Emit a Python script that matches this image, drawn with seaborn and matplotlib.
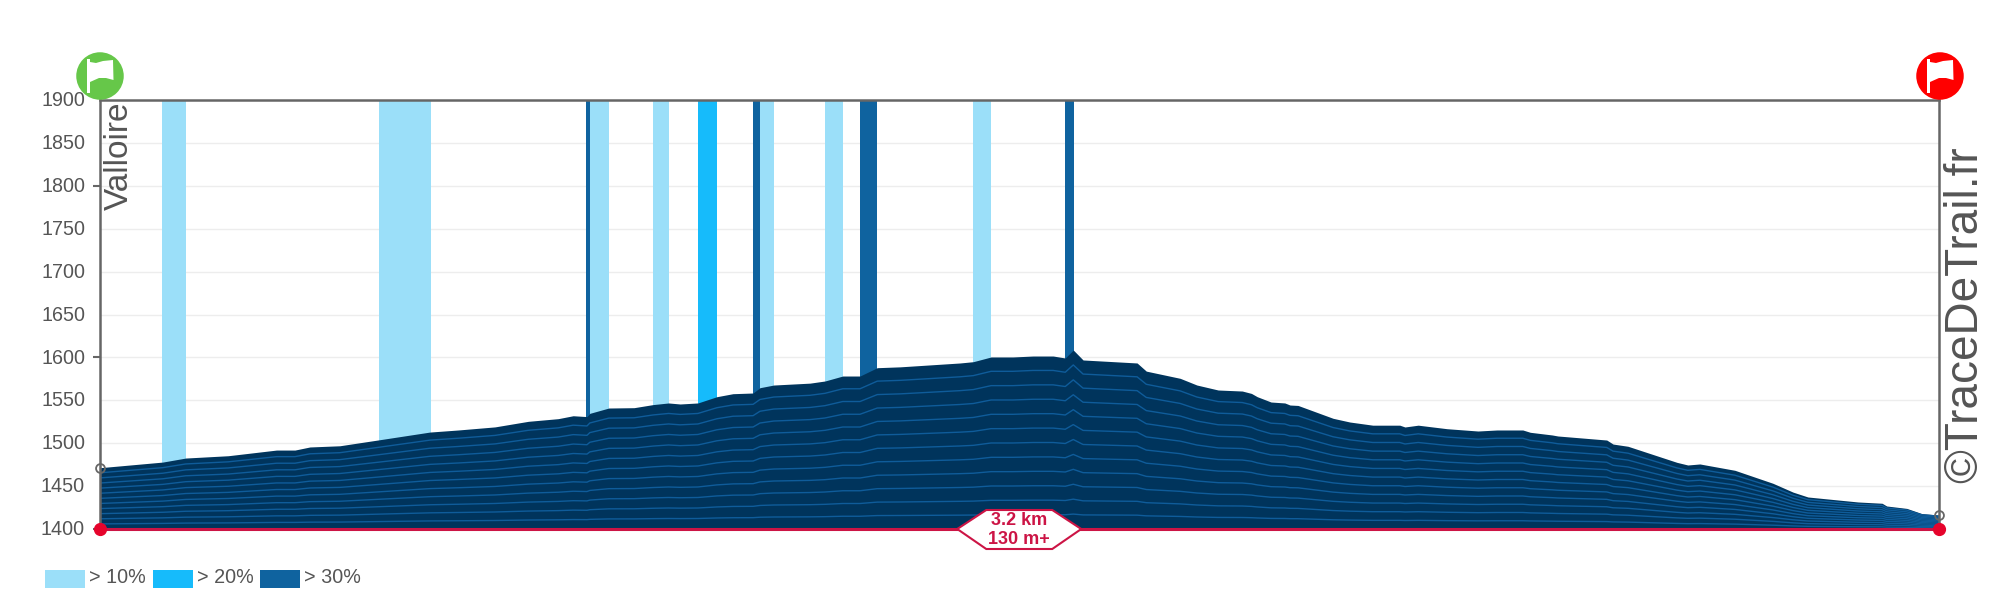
import numpy as np
import pandas as pd
import matplotlib
matplotlib.use("Agg")
import matplotlib.pyplot as plt
from matplotlib.patches import Patch, Polygon, Ellipse
from matplotlib.transforms import ScaledTranslation
import seaborn as sns

# Profile
distance_km = [0.0, 0.110, 0.150, 0.224, 0.308, 0.340, 0.366, 0.418, 0.484, 0.575, 0.624, 0.688,
               0.746, 0.798, 0.824, 0.848, 0.853, 0.886, 0.930, 0.963, 0.990, 1.010, 1.041, 1.074,
               1.102, 1.137, 1.149, 1.173, 1.236, 1.262, 1.293, 1.323, 1.353, 1.393, 1.497, 1.520,
               1.551, 1.589, 1.624, 1.659, 1.680, 1.694, 1.711, 1.805, 1.821, 1.880, 1.909, 1.946,
               1.988, 2.004, 2.014, 2.038, 2.062, 2.071, 2.085, 2.146, 2.175, 2.215, 2.262, 2.271,
               2.294, 2.344, 2.398, 2.431, 2.476, 2.489, 2.527, 2.537, 2.622, 2.633, 2.659, 2.744,
               2.763, 2.784, 2.845, 2.911, 2.946, 2.972, 3.059, 3.101, 3.109, 3.144, 3.170, 3.200]
elevation_m = [1471.4, 1478, 1482.7, 1485.4, 1492, 1492, 1495.6, 1497, 1503.7, 1513, 1515.4, 1519,
               1525.5, 1528.6, 1532, 1531, 1534.8, 1541, 1541.4, 1545, 1546.9, 1545.7, 1546.9, 1554.2,
               1557.7, 1558.5, 1564.7, 1567.8, 1570, 1572.5, 1578.3, 1578.3, 1588, 1589, 1593.5, 1595,
               1600.5, 1600.5, 1601.6, 1601.6, 1599.3, 1608.6, 1597, 1593.5, 1584, 1575.6, 1567.8, 1562,
               1560.8, 1558, 1554.2, 1548, 1546.9, 1544.5, 1544, 1529, 1524.7, 1521, 1521, 1518.9,
               1521, 1516.9, 1514.2, 1515.4, 1515.4, 1512.7, 1509.6, 1508.4, 1503.7, 1499, 1496.4, 1477.7,
               1474.6, 1475.8, 1468.4, 1453.3, 1443, 1437.3, 1431.5, 1430, 1426.8, 1424, 1418, 1416.3]

# Slope zones, km start / end
zones_10_start = [0.109, 0.486, 0.853, 0.963, 1.149, 1.262, 1.520]
zones_10_end = [0.150, 0.577, 0.886, 0.990, 1.173, 1.293, 1.551]
zones_20_start = [1.041]
zones_20_end = [1.074]
zones_30_start = [0.846, 1.137, 1.323, 1.680]
zones_30_end = [0.853, 1.149, 1.353, 1.695]

legend_labels = ["> 10%", "> 20%", "> 30%"]
zone_colors = ["#9BDFF9", "#16BBFB", "#0F639F"]
y_ticks = [1400, 1450, 1500, 1550, 1600, 1650, 1700, 1750, 1800, 1850, 1900]
marked_ticks = [1400, 1600, 1800]
band_count = 12
start_label = "Valloire"
credit_label = "©TraceDeTrail.fr"
segment_label = "3.2 km\n130 m+"
segment_mid_km = 1.6

sns.set_theme(style="white")
plt.rcParams["font.family"] = ["Liberation Sans", "DejaVu Sans"]

W, H = 2000, 600
fig = plt.figure(figsize=(W / 100, H / 100), dpi=100)
ax = fig.add_axes([99.5 / W, 1 - 529 / H, (1939 - 99.5) / W, (529 - 100) / H])
ax.set_xlim(0, 3.2)
ax.set_ylim(1400, 1900)

TXT = "#555555"
FRAME = "#666666"
CRIMSON = "#CC1445"

ax.set_yticks(y_ticks)
ax.set_yticks(marked_ticks, minor=True)
ax.yaxis.remove_overlapping_locs = False
ax.set_xticks([])
ax.yaxis.grid(True, which="major", color="#EDEDED", lw=1.0, zorder=0)
ax.set_axisbelow(True)
ax.tick_params(axis="y", which="major", left=False, length=0, pad=10.4, labelsize=14.2, labelcolor=TXT)
ax.tick_params(axis="y", which="minor", left=True, length=5.4, width=1.5, color=FRAME, labelleft=False)
for label in ax.get_yticklabels():
    label.set_transform(label.get_transform() + ScaledTranslation(0, 1 / 72, fig.dpi_scale_trans))
for s, vis in dict(left=True, top=True, right=True, bottom=False).items():
    ax.spines[s].set_visible(vis)
    ax.spines[s].set_color(FRAME)
    ax.spines[s].set_linewidth(1.8)

# Slope zones
for starts, ends, c in [(zones_10_start, zones_10_end, zone_colors[0]),
                        (zones_20_start, zones_20_end, zone_colors[1]),
                        (zones_30_start, zones_30_end, zone_colors[2])]:
    s = np.array(starts)
    e = np.array(ends)
    ax.bar(s, 500, width=e - s, bottom=1400, align="edge", color=c, lw=0, zorder=1.5)

# Terrain fill and inner contours
dist = np.array(distance_km)
elev = np.array(elevation_m)
ax.fill_between(dist, 1400, elev, color="#00345C", lw=0, zorder=2)
rows = []
for k in range(1, band_count):
    rows.append(pd.DataFrame({"km": dist, "m": 1400 + (elev - 1400) * k / band_count, "band": k}))
contours = pd.concat(rows)
sns.lineplot(data=contours, x="km", y="m", units="band", estimator=None, color="#0F5C9A",
             lw=1.0, ax=ax, legend=False, zorder=2.5, sort=False)
ax.set_xlabel("")
ax.set_ylabel("")
ax.set_xlim(0, 3.2)
ax.set_ylim(1400, 1900)

# Baseline
ax.plot([0, 3.2], [1400, 1400], color=CRIMSON, lw=2.2, zorder=4, clip_on=False, solid_capstyle="butt")

# Endpoints
ax.plot([dist[0], dist[-1]], [elev[0], elev[-1]], ls="", marker="o", ms=6.4, mfc="none", mec=FRAME,
        mew=1.3, zorder=6, clip_on=False)
ax.plot([0, 3.2], [1400, 1400], ls="", marker="o", ms=8.5, mfc="#E6042C", mec="#E6042C", zorder=6,
        clip_on=False)

# Rotated names
fig.text(119.5 / W, 1 - 102 / H, start_label, rotation=90, ha="center", va="top", fontsize=24, color=TXT)
fig.text(1965.5 / W, 1 - 146 / H, credit_label, rotation=90, ha="center", va="top", fontsize=33, color=TXT)

# Pixel helper for drawn decoration
def px(points):
    return [(x / W, 1 - y / H) for x, y in points]

# Flags
for cx, col in [(100, "#66C749"), (1940, "#FF0000")]:
    fig.add_artist(Ellipse((cx / W, 1 - 76 / H), 47.5 / W, 47.5 / H, color=col, lw=0,
                           transform=fig.transFigure, zorder=7))
    dx = cx - 100
    fig.add_artist(Polygon(px([(87.3 + dx, 59), (90 + dx, 59), (90 + dx, 93), (87.3 + dx, 93)]),
                           closed=True, fc="white", lw=0, transform=fig.transFigure, zorder=8))
    fig.add_artist(Polygon(px([(90 + dx, 62), (96 + dx, 63), (103 + dx, 61), (113 + dx, 60), (113.5 + dx, 80),
                               (106 + dx, 78), (99 + dx, 78), (90 + dx, 82)]),
                           closed=True, fc="white", lw=0, transform=fig.transFigure, zorder=8))

# Segment badge
mid_px = 99.5 + segment_mid_km / 3.2 * (1939 - 99.5)
fig.add_artist(Polygon(px([(mid_px - 62, 529), (mid_px - 33, 510), (mid_px + 33, 510), (mid_px + 62, 529),
                           (mid_px + 33, 549), (mid_px - 33, 549)]),
                       closed=True, fc="white", ec=CRIMSON, lw=1.5, transform=fig.transFigure, zorder=9))
fig.text(mid_px / W, 1 - 530 / H, segment_label, ha="center", va="center", fontsize=13, weight="bold",
         color=CRIMSON, linespacing=1.22, zorder=10)

# Legend
handles = [Patch(fc=c, lw=0, label=l) for c, l in zip(zone_colors, legend_labels)]
leg = fig.legend(handles=handles, loc="lower left", bbox_to_anchor=(45 / W, 1 - 590 / H), ncol=3, frameon=False,
                 borderpad=0, borderaxespad=0, fontsize=14.2, labelcolor=TXT, handlelength=2.03, handleheight=1.0,
                 handletextpad=0.2, columnspacing=0.35)
for t in leg.get_texts():
    t.set_y(3)

fig.savefig("out.png", dpi=100)
